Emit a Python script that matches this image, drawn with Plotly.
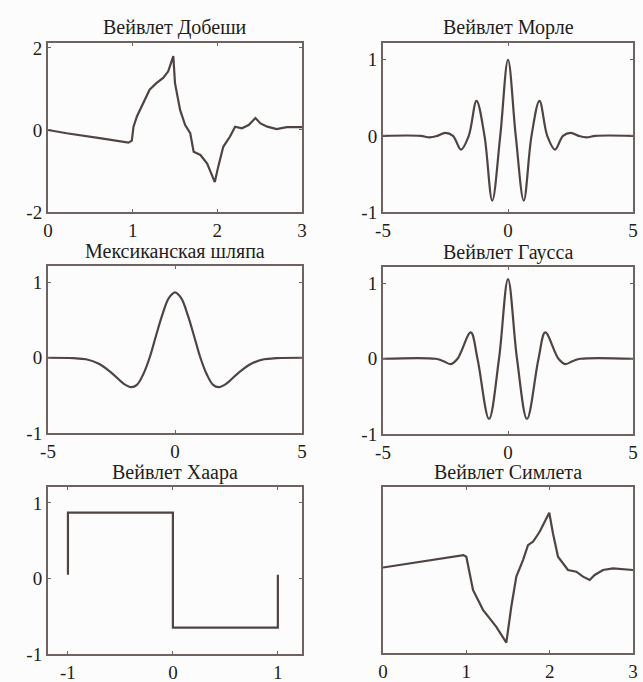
import plotly.graph_objects as go

# ---------------- data ----------------
titles = ["Вейвлет Добеши", "Вейвлет Морле", "Мексиканская шляпа",
          "Вейвлет Гаусса", "Вейвлет Хаара", "Вейвлет Симлета"]

db_x = [0, 0.22, 0.61, 0.95, 0.99, 1.01, 1.05, 1.13, 1.2, 1.28, 1.36, 1.42, 1.48,
        1.5, 1.56, 1.62, 1.68, 1.72, 1.8, 1.88, 1.93, 1.97, 2.01, 2.07, 2.15,
        2.21, 2.29, 2.37, 2.45, 2.51, 2.59, 2.7, 2.82, 3.0]
db_y = [0, -0.08, -0.2, -0.31, -0.26, 0.08, 0.33, 0.69, 0.98, 1.14, 1.27, 1.43, 1.8,
        1.14, 0.49, 0.12, -0.08, -0.53, -0.61, -0.82, -1.06, -1.27, -0.9, -0.41, -0.16,
        0.08, 0.04, 0.12, 0.29, 0.16, 0.08, 0.02, 0.07, 0.07]

mor_x = [-5, -3.5, -3.14, -2.83, -2.51, -2.2, -1.88, -1.57, -1.26, -0.94, -0.63, -0.31, 0,
         0.31, 0.63, 0.94, 1.26, 1.57, 1.88, 2.2, 2.51, 2.83, 3.14, 3.5, 5]
mor_y = [0, 0, -0.02, 0, 0.04, 0, -0.18, 0, 0.46, 0, -0.85, 0, 1.0,
         0, -0.85, 0, 0.46, 0, -0.18, 0, 0.04, 0, -0.02, 0, 0]

mh_x = [-5, -4, -3.5, -3, -2.5, -2, -1.73, -1.5, -1.25, -1, -0.75, -0.5, -0.25, 0,
        0.25, 0.5, 0.75, 1, 1.25, 1.5, 1.73, 2, 2.5, 3, 3.5, 4, 5]
mh_y = [0, -0.005, -0.02, -0.08, -0.2, -0.35, -0.39, -0.36, -0.22, 0, 0.29, 0.57, 0.79, 0.87,
        0.79, 0.57, 0.29, 0, -0.22, -0.36, -0.39, -0.35, -0.2, -0.08, -0.02, -0.005, 0]

ga_x = [-5, -2.9, -2.6, -2.29, -2.02, -1.49, -1.22, -0.76, -0.36, 0,
        0.36, 0.76, 1.22, 1.49, 2.02, 2.29, 2.6, 2.9, 5]
ga_y = [0, 0, -0.03, -0.07, 0, 0.35, 0, -0.8, 0, 1.06,
        0, -0.8, 0, 0.35, 0, -0.07, -0.03, 0, 0]

haar_x = [-1, -1, 0, 0, 1, 1]
haar_y = [0.05, 0.87, 0.87, -0.65, -0.65, 0.05]

sym_x = [0, 0.965, 1.0, 1.08, 1.2, 1.36, 1.48, 1.54, 1.6, 1.68, 1.74, 1.8, 1.88, 1.995,
         2.04, 2.1, 2.22, 2.32, 2.4, 2.48, 2.54, 2.64, 2.76, 3.0]
sym_y = [0.06, 0.36, 0.32, -0.48, -0.96, -1.37, -1.75, -0.88, -0.16, 0.24, 0.6, 0.68, 0.92, 1.38,
         0.88, 0.32, 0, -0.04, -0.16, -0.24, -0.12, 0, 0.04, 0.0]

series = [(db_x, db_y, "linear"), (mor_x, mor_y, "spline"), (mh_x, mh_y, "spline"),
          (ga_x, ga_y, "spline"), (haar_x, haar_y, "linear"), (sym_x, sym_y, "linear")]

x_ranges = [[0, 3], [-5, 5], [-5, 5], [-5, 5], [-1.19, 1.23], [0, 3]]
y_ranges = [[-2, 2.12], [-1, 1.22], [-1, 1.22], [-1, 1.22], [-1, 1.21], [-2, 2]]
x_ticks = [[0, 1, 2, 3], [-5, 0, 5], [-5, 0, 5], [-5, 0, 5], [-1, 0, 1], [0, 1, 2, 3]]
y_ticks = [[-2, 0, 2], [-1, 0, 1], [-1, 0, 1], [-1, 0, 1], [-1, 0, 1], []]

# ---------------- layout geometry (pixels) ----------------
W, H = 643, 682
boxes = [(48, 302, 43, 212), (383, 633, 43, 212),
         (48, 302, 266, 433), (383, 633, 267, 434),
         (48, 302, 487, 654), (383, 633, 487, 653)]

LINE = "#4f4442"
AXIS = "#6e6361"
FONT = "Liberation Serif"
TXT = "#231d1b"

fig = go.Figure()
layout = dict(template="none", width=W, height=H, margin=dict(l=0, r=0, t=0, b=0, pad=0),
              paper_bgcolor="#fcfcfc", plot_bgcolor="#fcfcfc", showlegend=False,
              font=dict(family=FONT, size=19, color=TXT))
annotations = []
for i, ((xs, ys, shape), (x0, x1, y0, y1)) in enumerate(zip(series, boxes)):
    n = i + 1
    xa = "x" if n == 1 else f"x{n}"
    ya = "y" if n == 1 else f"y{n}"
    fig.add_trace(go.Scatter(x=xs, y=ys, mode="lines", xaxis=xa, yaxis=ya,
                             line=dict(color=LINE, width=2.2, shape=shape, smoothing=1.0),
                             hoverinfo="skip"))
    common = dict(showline=True, linecolor=AXIS, linewidth=2, mirror="allticks",
                  ticks="inside", ticklen=3, tickcolor=AXIS, tickwidth=1, showgrid=False,
                  zeroline=False, automargin=False,
                  tickfont=dict(family=FONT, size=19, color=TXT))
    layout["xaxis" if n == 1 else f"xaxis{n}"] = dict(
        domain=[x0 / W, x1 / W], range=x_ranges[i], anchor=ya,
        tickmode="array", tickvals=x_ticks[i], ticktext=[str(v) for v in x_ticks[i]],
        **common)
    layout["yaxis" if n == 1 else f"yaxis{n}"] = dict(
        domain=[1 - y1 / H, 1 - y0 / H], range=y_ranges[i], anchor=xa,
        tickmode="array", tickvals=y_ticks[i], ticktext=[str(v) for v in y_ticks[i]],
        showticklabels=bool(y_ticks[i]), **common)
    annotations.append(dict(text=titles[i], xref="paper", yref="paper",
                            x=(x0 + x1) / 2 / W, y=1 - y0 / H, yshift=15,
                            xanchor="center", yanchor="middle", showarrow=False,
                            font=dict(family=FONT, size=20, color=TXT)))
layout["annotations"] = annotations
fig.update_layout(**layout)
fig.write_html("out.html")
